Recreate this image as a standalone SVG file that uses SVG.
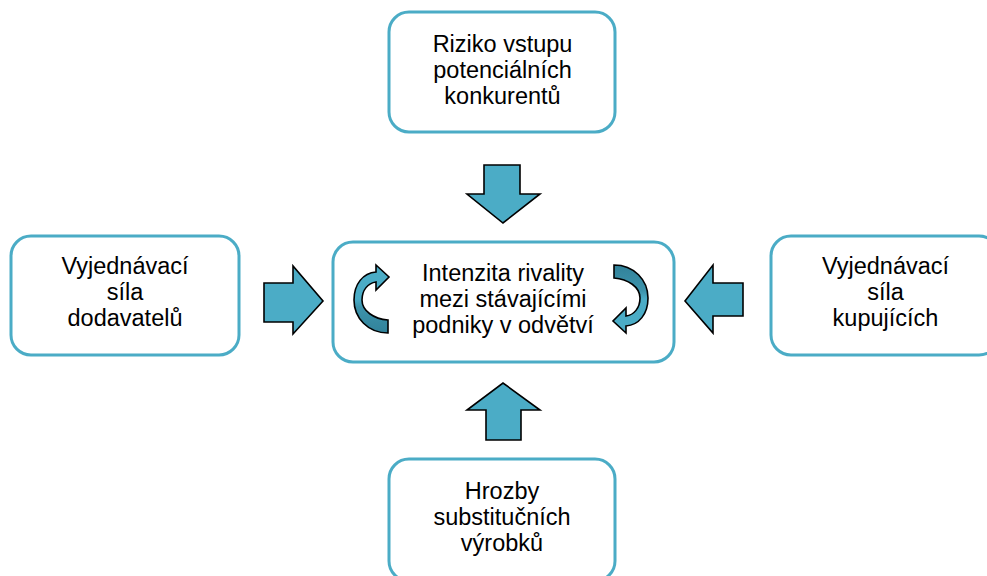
<svg xmlns="http://www.w3.org/2000/svg" xmlns:xlink="http://www.w3.org/1999/xlink" width="987" height="576" viewBox="0 0 987 576">
<style>
.box{fill:#fff;stroke:#4bacc6;stroke-width:3}
.lbl{font-family:"Liberation Sans",Arial,sans-serif;font-size:23.5px;fill:#000;text-anchor:middle}
.arr{fill:#4bacc6;stroke:#000;stroke-width:1.6;stroke-linejoin:miter}
.curv{fill:url(#rib);stroke:#000;stroke-width:1.6;stroke-linejoin:miter}
</style>
<defs>
<linearGradient id="rib" x1="0" y1="0" x2="0" y2="1">
<stop offset="0" stop-color="#4bacc6"/>
<stop offset="0.5" stop-color="#4bacc6"/>
<stop offset="0.62" stop-color="#3d93ab"/>
<stop offset="1" stop-color="#31829a"/>
</linearGradient>
<path id="curvPath" d="M376,272 L376,265 L389,277 L376,290 L376,282 C368,283 362,290 362,300 C362,311 374,319 388,320 L388,333 C368,333 354,318 354,300 C354,284 363,273 376,272 Z"/>
</defs>
<rect width="987" height="576" fill="#fff"/>
<g id="connectors">
<path class="arr" d="M484,165 L520,165 L520,194 L540,194 L503,223 L467,194 L484,194 Z"/>
<path class="arr" d="M486,440 L521,440 L521,410 L540,410 L503,383 L467,410 L486,410 Z"/>
<path class="arr" d="M264,283 L293,283 L293,266 L323,301 L293,334 L293,322 L264,322 Z"/>
<path class="arr" d="M743,283 L713,283 L713,265 L685,301 L713,333 L713,316 L743,316 Z"/>
</g>
<g id="node-top">
<rect class="box" x="389" y="12" width="226" height="120" rx="20"/>
<text class="lbl" x="502.5" y="52">Riziko vstupu</text>
<text class="lbl" x="502.5" y="78">potenciálních</text>
<text class="lbl" x="502.5" y="104">konkurentů</text>
</g>
<g id="node-left">
<rect class="box" x="11" y="236" width="228" height="119" rx="20"/>
<text class="lbl" x="125" y="273.5">Vyjednávací</text>
<text class="lbl" x="125" y="299.5">síla</text>
<text class="lbl" x="125" y="325.5">dodavatelů</text>
</g>
<g id="node-right">
<rect class="box" x="771" y="236" width="228" height="119" rx="20"/>
<text class="lbl" x="885.5" y="273.5">Vyjednávací</text>
<text class="lbl" x="885.5" y="299.5">síla</text>
<text class="lbl" x="885.5" y="325.5">kupujících</text>
</g>
<g id="node-bottom">
<rect class="box" x="389" y="459" width="226" height="122" rx="20"/>
<text class="lbl" x="502" y="498.5">Hrozby</text>
<text class="lbl" x="502" y="524.5">substitučních</text>
<text class="lbl" x="502" y="550.5">výrobků</text>
</g>
<g id="node-center">
<rect class="box" x="333" y="242" width="341" height="120" rx="20"/>
<text class="lbl" x="503" y="281">Intenzita rivality</text>
<text class="lbl" x="503" y="307">mezi stávajícími</text>
<text class="lbl" x="503" y="333">podniky v odvětví</text>
<use class="curv" xlink:href="#curvPath"/>
<use class="curv" xlink:href="#curvPath" transform="rotate(180 631 299) translate(260 0)"/>
</g>
</svg>
